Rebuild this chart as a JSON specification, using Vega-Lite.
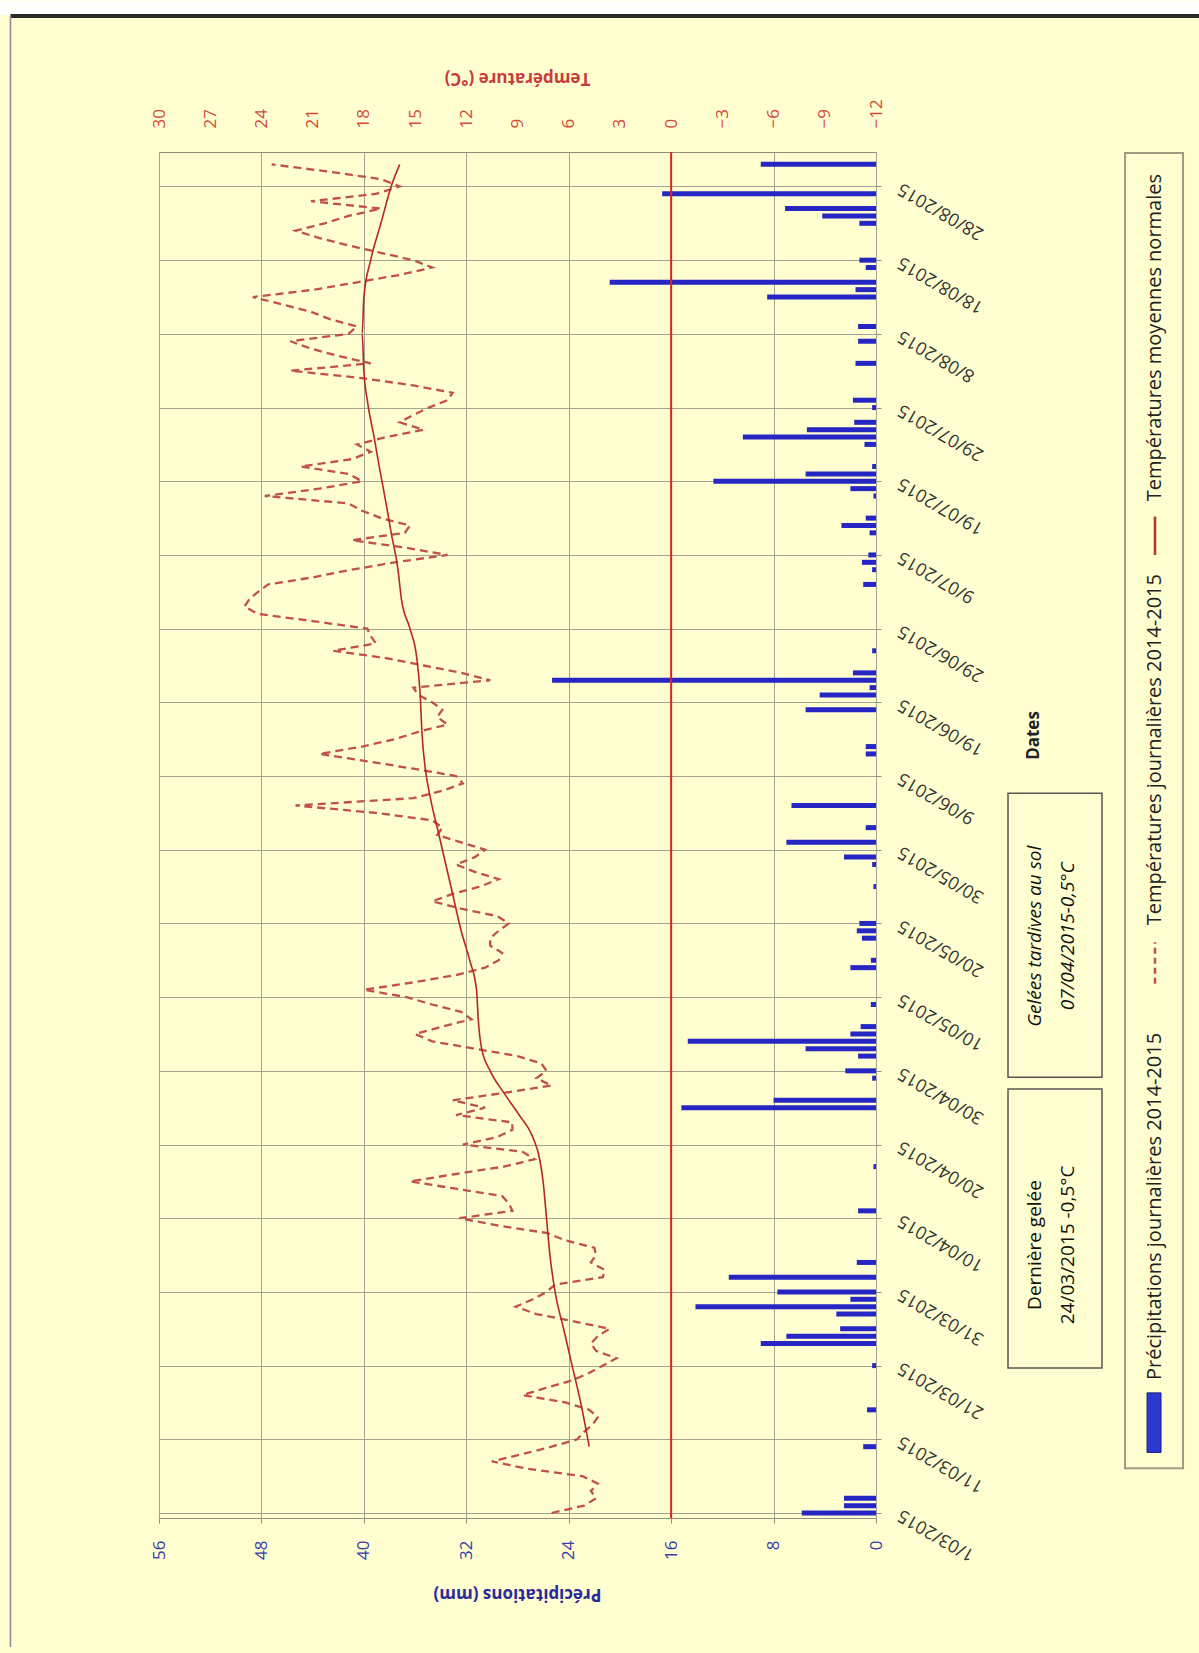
{
"$schema":"https://vega.github.io/schema/vega-lite/v6.json",
"width":717,"height":1366,
"autosize":"none",
"padding":{"left":159,"top":152,"right":323,"bottom":135},
"background":"#FEFED0",
"config":{"view":{"stroke":"#8f8f80","strokeWidth":1},"font":"Open Sans","axis":{"gridColor":"#a3a392","gridOpacity":1,"domain":false,"labelFont":"Open Sans","titleFont":"Open Sans"}},
"datasets":{
"one":[{}],
"p":[
{"date":"2015-03-01","mm":5.8},{"date":"2015-03-02","mm":2.5},{"date":"2015-03-03","mm":2.5},{"date":"2015-03-10","mm":1.0},{"date":"2015-03-15","mm":0.7},{"date":"2015-03-21","mm":0.3},{"date":"2015-03-24","mm":9.0},{"date":"2015-03-25","mm":7.0},{"date":"2015-03-26","mm":2.8},{"date":"2015-03-28","mm":3.1},{"date":"2015-03-29","mm":14.1},{"date":"2015-03-30","mm":2.0},{"date":"2015-03-31","mm":7.7},
{"date":"2015-04-02","mm":11.5},{"date":"2015-04-04","mm":1.5},{"date":"2015-04-11","mm":1.4},{"date":"2015-04-17","mm":0.2},{"date":"2015-04-25","mm":15.2},{"date":"2015-04-26","mm":8.0},{"date":"2015-04-29","mm":0.3},{"date":"2015-04-30","mm":2.4},
{"date":"2015-05-02","mm":1.4},{"date":"2015-05-03","mm":5.5},{"date":"2015-05-04","mm":14.7},{"date":"2015-05-05","mm":2.0},{"date":"2015-05-06","mm":1.2},{"date":"2015-05-09","mm":0.4},{"date":"2015-05-14","mm":2.0},{"date":"2015-05-15","mm":0.4},{"date":"2015-05-18","mm":1.1},{"date":"2015-05-19","mm":1.5},{"date":"2015-05-20","mm":1.3},{"date":"2015-05-25","mm":0.2},{"date":"2015-05-28","mm":0.3},{"date":"2015-05-29","mm":2.5},{"date":"2015-05-31","mm":7.0},
{"date":"2015-06-02","mm":0.8},{"date":"2015-06-05","mm":6.6},{"date":"2015-06-12","mm":0.8},{"date":"2015-06-13","mm":0.8},{"date":"2015-06-18","mm":5.5},{"date":"2015-06-20","mm":4.4},{"date":"2015-06-21","mm":0.5},{"date":"2015-06-22","mm":25.3},{"date":"2015-06-23","mm":1.8},{"date":"2015-06-26","mm":0.3},
{"date":"2015-07-05","mm":1.0},{"date":"2015-07-07","mm":0.3},{"date":"2015-07-08","mm":1.1},{"date":"2015-07-09","mm":0.6},{"date":"2015-07-12","mm":0.5},{"date":"2015-07-13","mm":2.7},{"date":"2015-07-14","mm":0.8},{"date":"2015-07-17","mm":0.2},{"date":"2015-07-18","mm":2.0},{"date":"2015-07-19","mm":12.7},{"date":"2015-07-20","mm":5.5},{"date":"2015-07-21","mm":0.3},{"date":"2015-07-24","mm":0.9},{"date":"2015-07-25","mm":10.4},{"date":"2015-07-26","mm":5.4},{"date":"2015-07-27","mm":1.7},{"date":"2015-07-29","mm":0.3},{"date":"2015-07-30","mm":1.8},
{"date":"2015-08-04","mm":1.6},{"date":"2015-08-07","mm":1.4},{"date":"2015-08-09","mm":1.4},{"date":"2015-08-13","mm":8.5},{"date":"2015-08-14","mm":1.6},{"date":"2015-08-15","mm":20.8},{"date":"2015-08-17","mm":0.8},{"date":"2015-08-18","mm":1.3},{"date":"2015-08-23","mm":1.3},{"date":"2015-08-24","mm":4.2},{"date":"2015-08-25","mm":7.1},{"date":"2015-08-27","mm":16.7},{"date":"2015-08-31","mm":9.0}
],
"t":[
{"date":"2015-03-01","t":7.0},{"date":"2015-03-02","t":5.1},{"date":"2015-03-03","t":4.4},{"date":"2015-03-04","t":4.7},{"date":"2015-03-05","t":4.3},{"date":"2015-03-06","t":5.2},{"date":"2015-03-07","t":8.4},{"date":"2015-03-08","t":10.5},{"date":"2015-03-09","t":8.7},{"date":"2015-03-10","t":7.0},{"date":"2015-03-11","t":5.5},{"date":"2015-03-12","t":5.1},{"date":"2015-03-13","t":4.6},{"date":"2015-03-14","t":4.3},{"date":"2015-03-15","t":4.8},{"date":"2015-03-16","t":6.2},{"date":"2015-03-17","t":8.7},{"date":"2015-03-18","t":7.3},{"date":"2015-03-19","t":5.8},{"date":"2015-03-20","t":4.8},{"date":"2015-03-21","t":4.0},{"date":"2015-03-22","t":3.2},{"date":"2015-03-23","t":4.4},{"date":"2015-03-24","t":4.7},{"date":"2015-03-25","t":4.3},{"date":"2015-03-26","t":3.6},{"date":"2015-03-27","t":5.7},{"date":"2015-03-28","t":7.9},{"date":"2015-03-29","t":9.1},{"date":"2015-03-30","t":8.1},{"date":"2015-03-31","t":7.3},
{"date":"2015-04-01","t":6.8},{"date":"2015-04-02","t":4.0},{"date":"2015-04-03","t":3.9},{"date":"2015-04-04","t":4.7},{"date":"2015-04-05","t":4.4},{"date":"2015-04-06","t":4.5},{"date":"2015-04-07","t":6.2},{"date":"2015-04-08","t":7.3},{"date":"2015-04-09","t":10.1},{"date":"2015-04-10","t":12.4},{"date":"2015-04-11","t":9.3},{"date":"2015-04-12","t":9.5},{"date":"2015-04-13","t":9.9},{"date":"2015-04-14","t":12.6},{"date":"2015-04-15","t":15.3},{"date":"2015-04-16","t":12.6},{"date":"2015-04-17","t":9.8},{"date":"2015-04-18","t":8.0},{"date":"2015-04-19","t":8.7},{"date":"2015-04-20","t":12.2},{"date":"2015-04-21","t":10.2},{"date":"2015-04-22","t":9.3},{"date":"2015-04-23","t":9.3},{"date":"2015-04-24","t":12.6},{"date":"2015-04-25","t":10.9},{"date":"2015-04-26","t":12.8},{"date":"2015-04-27","t":9.8},{"date":"2015-04-28","t":7.0},{"date":"2015-04-29","t":7.9},{"date":"2015-04-30","t":7.3},
{"date":"2015-05-01","t":7.6},{"date":"2015-05-02","t":9.0},{"date":"2015-05-03","t":11.5},{"date":"2015-05-04","t":14.0},{"date":"2015-05-05","t":15.0},{"date":"2015-05-06","t":13.4},{"date":"2015-05-07","t":11.7},{"date":"2015-05-08","t":12.3},{"date":"2015-05-09","t":14.0},{"date":"2015-05-10","t":15.5},{"date":"2015-05-11","t":18.0},{"date":"2015-05-12","t":15.1},{"date":"2015-05-13","t":12.6},{"date":"2015-05-14","t":10.9},{"date":"2015-05-15","t":10.1},{"date":"2015-05-16","t":9.9},{"date":"2015-05-17","t":10.6},{"date":"2015-05-18","t":10.6},{"date":"2015-05-19","t":10.1},{"date":"2015-05-20","t":9.5},{"date":"2015-05-21","t":10.2},{"date":"2015-05-22","t":12.3},{"date":"2015-05-23","t":14.0},{"date":"2015-05-24","t":12.8},{"date":"2015-05-25","t":11.2},{"date":"2015-05-26","t":10.1},{"date":"2015-05-27","t":11.5},{"date":"2015-05-28","t":12.6},{"date":"2015-05-29","t":11.5},{"date":"2015-05-30","t":10.9},{"date":"2015-05-31","t":12.3},
{"date":"2015-06-01","t":13.7},{"date":"2015-06-02","t":13.4},{"date":"2015-06-03","t":14.0},{"date":"2015-06-04","t":17.3},{"date":"2015-06-05","t":22.0},{"date":"2015-06-06","t":15.1},{"date":"2015-06-07","t":13.4},{"date":"2015-06-08","t":12.2},{"date":"2015-06-09","t":12.6},{"date":"2015-06-10","t":15.1},{"date":"2015-06-11","t":17.8},{"date":"2015-06-12","t":20.6},{"date":"2015-06-13","t":18.1},{"date":"2015-06-14","t":16.2},{"date":"2015-06-15","t":14.8},{"date":"2015-06-16","t":13.1},{"date":"2015-06-17","t":13.7},{"date":"2015-06-18","t":13.4},{"date":"2015-06-19","t":14.0},{"date":"2015-06-20","t":14.8},{"date":"2015-06-21","t":15.1},{"date":"2015-06-22","t":10.6},{"date":"2015-06-23","t":12.3},{"date":"2015-06-24","t":14.5},{"date":"2015-06-25","t":16.7},{"date":"2015-06-26","t":19.8},{"date":"2015-06-27","t":17.3},{"date":"2015-06-28","t":17.6},{"date":"2015-06-29","t":17.8},{"date":"2015-06-30","t":20.9},
{"date":"2015-07-01","t":24.2},{"date":"2015-07-02","t":25.0},{"date":"2015-07-03","t":24.7},{"date":"2015-07-04","t":24.2},{"date":"2015-07-05","t":23.6},{"date":"2015-07-06","t":20.9},{"date":"2015-07-07","t":18.7},{"date":"2015-07-08","t":16.2},{"date":"2015-07-09","t":13.1},{"date":"2015-07-10","t":15.6},{"date":"2015-07-11","t":18.7},{"date":"2015-07-12","t":15.6},{"date":"2015-07-13","t":15.3},{"date":"2015-07-14","t":17.0},{"date":"2015-07-15","t":18.1},{"date":"2015-07-16","t":18.9},{"date":"2015-07-17","t":23.8},{"date":"2015-07-18","t":20.6},{"date":"2015-07-19","t":18.1},{"date":"2015-07-20","t":18.9},{"date":"2015-07-21","t":21.7},{"date":"2015-07-22","t":18.7},{"date":"2015-07-23","t":17.6},{"date":"2015-07-24","t":18.4},{"date":"2015-07-25","t":16.7},{"date":"2015-07-26","t":14.5},{"date":"2015-07-27","t":15.9},{"date":"2015-07-28","t":15.1},{"date":"2015-07-29","t":14.2},{"date":"2015-07-30","t":13.1},{"date":"2015-07-31","t":12.8},
{"date":"2015-08-01","t":15.1},{"date":"2015-08-02","t":18.1},{"date":"2015-08-03","t":22.3},{"date":"2015-08-04","t":17.6},{"date":"2015-08-05","t":19.5},{"date":"2015-08-06","t":21.1},{"date":"2015-08-07","t":22.3},{"date":"2015-08-08","t":18.9},{"date":"2015-08-09","t":18.4},{"date":"2015-08-10","t":20.0},{"date":"2015-08-11","t":21.1},{"date":"2015-08-12","t":22.8},{"date":"2015-08-13","t":24.5},{"date":"2015-08-14","t":20.9},{"date":"2015-08-15","t":18.4},{"date":"2015-08-16","t":15.9},{"date":"2015-08-17","t":14.0},{"date":"2015-08-18","t":15.1},{"date":"2015-08-19","t":17.0},{"date":"2015-08-20","t":18.9},{"date":"2015-08-21","t":20.6},{"date":"2015-08-22","t":22.0},{"date":"2015-08-23","t":20.3},{"date":"2015-08-24","t":18.9},{"date":"2015-08-25","t":17.0},{"date":"2015-08-26","t":21.1},{"date":"2015-08-27","t":17.3},{"date":"2015-08-28","t":15.9},{"date":"2015-08-29","t":17.0},{"date":"2015-08-30","t":20.0},{"date":"2015-08-31","t":23.4}
],
"n":[
{"date":"2015-03-10","tn":4.8},{"date":"2015-03-16","tn":5.3},{"date":"2015-03-21","tn":5.8},{"date":"2015-03-26","tn":6.3},{"date":"2015-03-31","tn":6.8},{"date":"2015-04-05","tn":7.1},{"date":"2015-04-10","tn":7.3},{"date":"2015-04-15","tn":7.5},{"date":"2015-04-18","tn":7.7},{"date":"2015-04-21","tn":8.1},{"date":"2015-04-24","tn":8.9},{"date":"2015-04-27","tn":9.8},{"date":"2015-04-30","tn":10.6},{"date":"2015-05-03","tn":11.1},{"date":"2015-05-07","tn":11.3},{"date":"2015-05-11","tn":11.4},{"date":"2015-05-15","tn":11.8},{"date":"2015-05-19","tn":12.3},{"date":"2015-05-24","tn":12.8},{"date":"2015-05-28","tn":13.2},{"date":"2015-06-01","tn":13.6},{"date":"2015-06-06","tn":14.1},{"date":"2015-06-10","tn":14.4},{"date":"2015-06-15","tn":14.6},{"date":"2015-06-20","tn":14.7},{"date":"2015-06-25","tn":14.9},{"date":"2015-06-29","tn":15.3},{"date":"2015-07-03","tn":15.8},{"date":"2015-07-07","tn":16.0},{"date":"2015-07-12","tn":16.4},{"date":"2015-07-16","tn":16.7},{"date":"2015-07-21","tn":17.1},{"date":"2015-07-25","tn":17.4},{"date":"2015-07-30","tn":17.8},{"date":"2015-08-03","tn":18.0},{"date":"2015-08-08","tn":18.1},{"date":"2015-08-13","tn":18.0},{"date":"2015-08-18","tn":17.6},{"date":"2015-08-23","tn":17.0},{"date":"2015-08-28","tn":16.4},{"date":"2015-08-31","tn":15.9}
]
},
"layer":[
{"layer":[
{"data":{"name":"p"},"mark":{"type":"bar","orient":"horizontal","size":5,"color":"#2626c4"},
 "encoding":{
  "x":{"field":"mm","type":"quantitative","scale":{"domain":[0,56],"reverse":true,"nice":false,"zero":true},
   "axis":{"orient":"bottom","values":[0,8,16,24,32,40,48,56],"grid":true,"tickSize":5,"tickColor":"#8f8f80","labelAngle":270,"labelAlign":"right","labelBaseline":"middle","labelPadding":17,"labelColor":"#3a3aa8","labelFontSize":17,"title":"Précipitations (mm)","titleAngle":180,"titleY":75,"titleX":358,"titleAlign":"center","titleBaseline":"middle","titleColor":"#2a2a9a","titleFontWeight":"bold","titleFontSize":17}},
  "y":{"field":"date","type":"temporal","scale":{"type":"utc","domain":[1425168000000,1441065600000],"nice":false},
   "axis":{"orient":"right","values":[1425168000000,1426032000000,1426896000000,1427760000000,1428624000000,1429488000000,1430352000000,1431216000000,1432080000000,1432944000000,1433808000000,1434672000000,1435536000000,1436400000000,1437264000000,1438128000000,1438992000000,1439856000000,1440720000000],
    "labelExpr":"utcFormat(datum.value, '%-d/%m/%Y')","grid":true,"tickSize":5,"tickColor":"#8f8f80","labelAngle":210,"labelAlign":"right","labelBaseline":"middle","labelPadding":18,"labelColor":"#333333","labelFontSize":18,"labelOverlap":false,"labelFlush":false,"labelBound":false,
    "title":"Dates","titleAngle":270,"titleX":157,"titleY":583,"titleAlign":"center","titleBaseline":"middle","titleColor":"#222222","titleFontWeight":"bold","titleFontSize":17}}
 }},
{"data":{"name":"one"},"mark":{"type":"rect","color":"#ffffff"},"encoding":{"x":{"datum":72},"x2":{"datum":-28},"y":{"datum":1442900000000,"type":"temporal"},"y2":{"datum":1442729664000}}},
{"data":{"name":"one"},"mark":{"type":"rule","color":"#2a2a2a","strokeWidth":4},"encoding":{"x":{"datum":67.6},"x2":{"datum":-28},"y":{"datum":1442718432000,"type":"temporal"}}},
{"data":{"name":"one"},"mark":{"type":"rule","color":"#8a8a8a","strokeWidth":1.5},"encoding":{"x":{"datum":67.6},"y":{"datum":1442718432000,"type":"temporal"},"y2":{"datum":1423597248000}}},
{"data":{"name":"one"},"mark":{"type":"rect","fill":"#FEFED0","stroke":"#555555","strokeWidth":1.5},"encoding":{"x":{"datum":-10.31},"x2":{"datum":-17.65},"y":{"datum":1426867488000,"type":"temporal"},"y2":{"datum":1430137728000}}},
{"data":{"name":"one"},"mark":{"type":"rect","fill":"#FEFED0","stroke":"#555555","strokeWidth":1.5},"encoding":{"x":{"datum":-10.31},"x2":{"datum":-17.65},"y":{"datum":1430276832000,"type":"temporal"},"y2":{"datum":1433605824000}}},
{"data":{"name":"one"},"mark":{"type":"text","angle":270,"align":"center","baseline":"middle","fontSize":19,"color":"#111111"},"encoding":{"x":{"datum":-12.4},"y":{"datum":1428310368000,"type":"temporal"},"text":{"value":"Dernière gelée"}}},
{"data":{"name":"one"},"mark":{"type":"text","angle":270,"align":"center","baseline":"middle","fontSize":19,"color":"#111111"},"encoding":{"x":{"datum":-15.0},"y":{"datum":1428310368000,"type":"temporal"},"text":{"value":"24/03/2015 -0,5°C"}}},
{"data":{"name":"one"},"mark":{"type":"text","angle":270,"align":"center","baseline":"middle","fontSize":19,"fontStyle":"italic","color":"#111111"},"encoding":{"x":{"datum":-12.4},"y":{"datum":1431929664000,"type":"temporal"},"text":{"value":"Gelées tardives au sol"}}},
{"data":{"name":"one"},"mark":{"type":"text","angle":270,"align":"center","baseline":"middle","fontSize":19,"fontStyle":"italic","color":"#111111"},"encoding":{"x":{"datum":-15.0},"y":{"datum":1431929664000,"type":"temporal"},"text":{"value":"07/04/2015-0,5°C"}}},
{"data":{"name":"one"},"mark":{"type":"rect","fill":null,"stroke":"#a09a80","strokeWidth":2},"encoding":{"x":{"datum":-19.45},"x2":{"datum":-23.98},"y":{"datum":1425691584000,"type":"temporal"},"y2":{"datum":1441112256000}}},
{"data":{"name":"one"},"mark":{"type":"rect","fill":"#2a3ad0","stroke":"#1a1a80","strokeWidth":1},"encoding":{"x":{"datum":-21.17},"x2":{"datum":-22.26},"y":{"datum":1425878208000,"type":"temporal"},"y2":{"datum":1426576320000}}},
{"data":{"name":"one"},"mark":{"type":"text","angle":270,"align":"left","baseline":"middle","fontSize":20,"color":"#222222"},"encoding":{"x":{"datum":-21.79},"y":{"datum":1426727520000,"type":"temporal"},"text":{"value":"Précipitations journalières 2014-2015"}}},
{"data":{"name":"one"},"mark":{"type":"rule","color":"#C0504D","strokeWidth":2.5,"strokeDash":[6,4]},"encoding":{"x":{"datum":-21.79},"y":{"datum":1431371520000,"type":"temporal"},"y2":{"datum":1431859680000}}},
{"data":{"name":"one"},"mark":{"type":"text","angle":270,"align":"left","baseline":"middle","fontSize":20,"color":"#222222"},"encoding":{"x":{"datum":-21.79},"y":{"datum":1432057536000,"type":"temporal"},"text":{"value":"Températures journalières 2014-2015"}}},
{"data":{"name":"one"},"mark":{"type":"rule","color":"#c03030","strokeWidth":2.5},"encoding":{"x":{"datum":-21.79},"y":{"datum":1436400000000,"type":"temporal"},"y2":{"datum":1436850000000}}},
{"data":{"name":"one"},"mark":{"type":"text","angle":270,"align":"left","baseline":"middle","fontSize":20,"color":"#222222"},"encoding":{"x":{"datum":-21.79},"y":{"datum":1437030000000,"type":"temporal"},"text":{"value":"Températures moyennes normales"}}}
]},
{"layer":[
{"data":{"name":"one"},"mark":{"type":"rule","color":"#e02020","strokeWidth":2},"encoding":{"x":{"datum":0,"scale":{"domain":[-12,30],"reverse":true,"nice":false,"zero":false},
   "axis":{"orient":"top","values":[-12,-9,-6,-3,0,3,6,9,12,15,18,21,24,27,30],"grid":false,"ticks":false,"labelAngle":270,"labelAlign":"left","labelBaseline":"middle","labelPadding":24,"labelColor":"#d44a3a","labelFontSize":17,"title":"Température (°C)","titleAngle":180,"titleY":-75,"titleX":358,"titleAlign":"center","titleBaseline":"middle","titleColor":"#c83c3c","titleFontWeight":"bold","titleFontSize":17}}}},
{"data":{"name":"t"},"mark":{"type":"line","color":"#C0504D","strokeWidth":2.3,"strokeDash":[8,5]},
 "encoding":{"x":{"field":"t","type":"quantitative"},"y":{"field":"date","type":"temporal"},"order":{"field":"date","type":"temporal"}}},
{"data":{"name":"n"},"mark":{"type":"line","color":"#b8281e","strokeWidth":1.6,"interpolate":"monotone"},
 "encoding":{"x":{"field":"tn","type":"quantitative"},"y":{"field":"date","type":"temporal"},"order":{"field":"date","type":"temporal"}}}
]}
],
"resolve":{"scale":{"x":"independent"}}
}
